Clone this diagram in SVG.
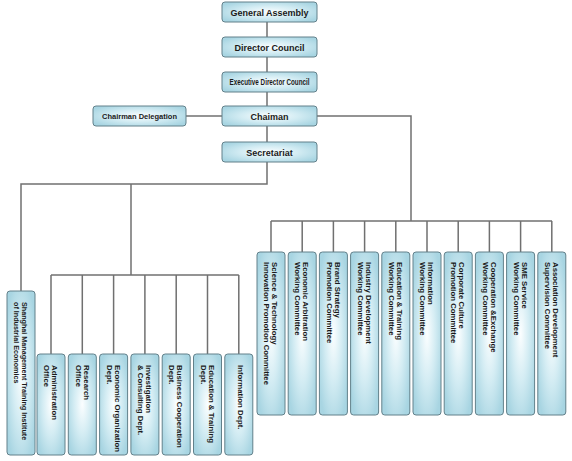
<svg xmlns="http://www.w3.org/2000/svg" width="572" height="461" viewBox="0 0 572 461">
<defs>
<radialGradient id="g" cx="0.5" cy="0.5" r="0.6">
<stop offset="0" stop-color="#fbfeff"/>
<stop offset="0.5" stop-color="#d3ecf3"/>
<stop offset="1" stop-color="#a8d5e2"/>
</radialGradient>
<style>
.b{fill:url(#g);stroke:#62808a;stroke-width:1}
.t{font-family:"Liberation Sans",Arial,sans-serif;font-weight:bold;fill:#1a1a1a}
.h{font-size:9px;text-anchor:middle}
.v{font-size:7.8px}
.c{fill:none;stroke:#707070;stroke-width:1.5}
</style>
</defs>
<rect width="572" height="461" fill="#ffffff"/>
<g id="connectors" class="c">
<path d="M267 22V37M267 57V72M267 92V106M267 126V142"/>
<path d="M186 116H222"/>
<path d="M317 116H411V221"/>
<path d="M271 221H552"/>
<path d="M271 221V252M302.2 221V252M333.4 221V252M364.6 221V252M395.8 221V252M427 221V252M458.2 221V252M489.4 221V252M520.6 221V252M551.8 221V252"/>
<path d="M267 162V184H21V291"/>
<path d="M131 184V275"/>
<path d="M51 275H238.8"/>
<path d="M51 275V354M82.3 275V354M113.6 275V354M144.9 275V354M176.2 275V354M207.5 275V354M238.8 275V354"/>
</g>
<g id="general-assembly"><rect class="b" x="222" y="2" width="95" height="20" rx="3"/><text class="t h" x="269.5" y="15.5">General Assembly</text></g>
<g id="director-council"><rect class="b" x="222" y="37" width="95" height="20" rx="3"/><text class="t h" x="269.5" y="50.5">Director Council</text></g>
<g id="executive-director-council"><rect class="b" x="222" y="72" width="95" height="20" rx="3"/><text class="t" x="229.5" y="85" font-size="8.5px" font-weight="normal" textLength="80" lengthAdjust="spacingAndGlyphs">Executive Director Council</text></g>
<g id="chairman"><rect class="b" x="222" y="106" width="95" height="20" rx="3"/><text class="t h" x="269.5" y="119.5">Chaiman</text></g>
<g id="chairman-delegation"><rect class="b" x="93" y="106" width="93" height="20" rx="3"/><text class="t" x="139.5" y="119" font-size="7.5px" text-anchor="middle">Chairman Delegation</text></g>
<g id="secretariat"><rect class="b" x="222" y="142" width="95" height="20" rx="3"/><text class="t h" x="269.5" y="155.5">Secretariat</text></g>

<g id="institute"><rect class="b" x="7" y="291" width="28" height="164" rx="3"/><text class="t" font-size="7.2px" transform="translate(22.2,302) rotate(90)"><tspan x="0" y="0">Shanghai Management Training Institute</tspan><tspan x="0" y="8">of Industrial Economics</tspan></text></g>
<g id="administration-office"><rect class="b" x="37" y="354" width="28" height="101" rx="3"/><text class="t v" transform="translate(52.2,365) rotate(90)"><tspan x="0" y="0">Administration</tspan><tspan x="0" y="8">Office</tspan></text></g>
<g id="research-office"><rect class="b" x="68.3" y="354" width="28" height="101" rx="3"/><text class="t v" transform="translate(83.5,365) rotate(90)"><tspan x="0" y="0">Research</tspan><tspan x="0" y="8">Office</tspan></text></g>
<g id="economic-organization-dept"><rect class="b" x="99.6" y="354" width="28" height="101" rx="3"/><text class="t v" transform="translate(114.8,365) rotate(90)"><tspan x="0" y="0">Economic Organization</tspan><tspan x="0" y="8">Dept.</tspan></text></g>
<g id="investigation-consulting-dept"><rect class="b" x="130.9" y="354" width="28" height="101" rx="3"/><text class="t v" transform="translate(146.1,365) rotate(90)"><tspan x="0" y="0">Investigation</tspan><tspan x="0" y="8">&amp; Consulting Dept.</tspan></text></g>
<g id="business-cooperation-dept"><rect class="b" x="162.2" y="354" width="28" height="101" rx="3"/><text class="t v" transform="translate(177.4,365) rotate(90)"><tspan x="0" y="0">Business Cooperation</tspan><tspan x="0" y="8">Dept.</tspan></text></g>
<g id="education-training-dept"><rect class="b" x="193.5" y="354" width="28" height="101" rx="3"/><text class="t v" transform="translate(208.7,365) rotate(90)"><tspan x="0" y="0">Education &amp; Training</tspan><tspan x="0" y="8">Dept.</tspan></text></g>
<g id="information-dept"><rect class="b" x="224.8" y="354" width="28" height="101" rx="3"/><text class="t v" transform="translate(237.8,365) rotate(90)">Information Dept.</text></g>

<g id="science-technology-committee"><rect class="b" x="257" y="252" width="28" height="163" rx="3"/><text class="t v" transform="translate(272.2,262) rotate(90)"><tspan x="0" y="0">Science &amp; Technology</tspan><tspan x="0" y="8">Innovation Promotion Committee</tspan></text></g>
<g id="economic-arbitration-committee"><rect class="b" x="288.2" y="252" width="28" height="163" rx="3"/><text class="t v" transform="translate(303.4,262) rotate(90)"><tspan x="0" y="0">Economic Arbitration</tspan><tspan x="0" y="8">Working Committee</tspan></text></g>
<g id="brand-strategy-committee"><rect class="b" x="319.4" y="252" width="28" height="163" rx="3"/><text class="t v" transform="translate(334.6,262) rotate(90)"><tspan x="0" y="0">Brand Strategy</tspan><tspan x="0" y="8">Promotion Committee</tspan></text></g>
<g id="industry-development-committee"><rect class="b" x="350.6" y="252" width="28" height="163" rx="3"/><text class="t v" transform="translate(365.8,262) rotate(90)"><tspan x="0" y="0">Industry Development</tspan><tspan x="0" y="8">Working Committee</tspan></text></g>
<g id="education-training-committee"><rect class="b" x="381.8" y="252" width="28" height="163" rx="3"/><text class="t v" transform="translate(397,262) rotate(90)"><tspan x="0" y="0">Education &amp; Training</tspan><tspan x="0" y="8">Working Committee</tspan></text></g>
<g id="information-committee"><rect class="b" x="413" y="252" width="28" height="163" rx="3"/><text class="t v" transform="translate(428.2,262) rotate(90)"><tspan x="0" y="0">Information</tspan><tspan x="0" y="8">Working Committee</tspan></text></g>
<g id="corporate-culture-committee"><rect class="b" x="444.2" y="252" width="28" height="163" rx="3"/><text class="t v" transform="translate(459.4,262) rotate(90)"><tspan x="0" y="0">Corporate Culture</tspan><tspan x="0" y="8">Promotion Committee</tspan></text></g>
<g id="cooperation-exchange-committee"><rect class="b" x="475.4" y="252" width="28" height="163" rx="3"/><text class="t v" transform="translate(490.6,262) rotate(90)"><tspan x="0" y="0">Cooperation &amp;Exchange</tspan><tspan x="0" y="8">Working Committee</tspan></text></g>
<g id="sme-service-committee"><rect class="b" x="506.6" y="252" width="28" height="163" rx="3"/><text class="t v" transform="translate(521.8,262) rotate(90)"><tspan x="0" y="0">SME Service</tspan><tspan x="0" y="8">Working Committee</tspan></text></g>
<g id="association-development-committee"><rect class="b" x="537.8" y="252" width="28" height="163" rx="3"/><text class="t v" transform="translate(553,262) rotate(90)"><tspan x="0" y="0">Association Development</tspan><tspan x="0" y="8">Supervision Committee</tspan></text></g>
</svg>
